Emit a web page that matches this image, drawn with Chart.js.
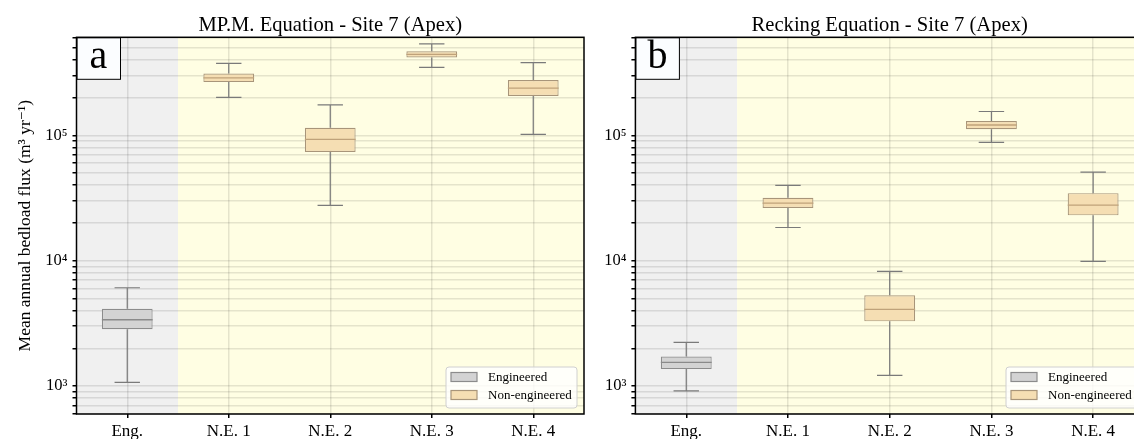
<!DOCTYPE html>
<html>
<head>
<meta charset="utf-8">
<script src="https://cdn.jsdelivr.net/npm/chart.js@4.4.1/dist/chart.umd.min.js"></script>
<style>
  html, body { margin: 0; padding: 0; background: #fff; overflow: hidden; }
  #wrap { position: relative; width: 1134px; height: 439px; overflow: hidden; }
  canvas { position: absolute; top: 0; }
</style>
</head>
<body>
<div id="wrap">
  <canvas id="chart-mpm" width="590" height="439" style="left:0px"></canvas>
  <canvas id="chart-recking" width="560" height="439" style="left:590px"></canvas>
</div>
<script>
/* ==========================================
   DATA
   ========================================== */
const categorias = ['Eng.', 'N.E. 1', 'N.E. 2', 'N.E. 3', 'N.E. 4'];

// MP.M. equation - panel a
const mpmMin = [1070, 201000, 27600, 349000, 102000];
const mpmQ1  = [2840, 266000, 73600, 419000, 206000];
const mpmMed = [3380, 288000, 92900, 443000, 238000];
const mpmQ3  = [4130, 312000, 115000, 468000, 276000];
const mpmMax = [6080, 376000, 175000, 538000, 380000];

// Recking equation - panel b
const reckMin = [916, 18400, 1215, 88000, 9870];
const reckQ1  = [1365, 26300, 3280, 112000, 23000];
const reckMed = [1543, 28800, 4090, 121000, 27800];
const reckQ3  = [1722, 31800, 5290, 130000, 34600];
const reckMax = [2228, 39900, 8210, 155000, 50900];

// y axis ticks (log)
const yTicks = [600, 700, 800, 900, 1000, 2000, 3000, 4000, 5000, 6000, 7000, 8000, 9000,
  10000, 20000, 30000, 40000, 50000, 60000, 70000, 80000, 90000,
  100000, 200000, 300000, 400000, 500000, 600000];
const yTickLabels = { 1000: '10³', 10000: '10⁴', 100000: '10⁵' };
const yMin = 598;
const yMax = 606000;

const serif = "'Liberation Serif', 'DejaVu Serif', serif";
Chart.defaults.font.family = serif;
Chart.defaults.color = '#000';

/* ==========================================
   BOX PLOT EXTRAS (background, whiskers, medians, legend...)
   ========================================== */
const boxExtras = {
    id: 'boxExtras',
    beforeDraw(chart) {
        const { ctx, chartArea: a, scales: { x } } = chart;
        const corte = (x.getPixelForValue(0) + x.getPixelForValue(1)) / 2;
        ctx.save();
        ctx.fillStyle = '#f0f0f0';
        ctx.fillRect(a.left, a.top, corte - a.left, a.height);
        ctx.fillStyle = '#fffee3';
        ctx.fillRect(corte, a.top, a.right - corte, a.height);
        ctx.restore();
    },
    beforeDatasetsDraw(chart, args, opts) {
        const { ctx, scales: { x, y } } = chart;
        ctx.save();
        ctx.strokeStyle = '#7a7a7a';
        ctx.lineWidth = 1.2;
        opts.min.forEach((v, i) => {
            const meta = chart.getDatasetMeta(i === 0 ? 0 : 1);
            const ancho = meta.data[i].width;
            const cx = x.getPixelForValue(i);
            const lineas = [[opts.q3[i], opts.max[i]], [opts.q1[i], opts.min[i]]];
            lineas.forEach(([desde, hasta]) => {
                ctx.beginPath();
                ctx.moveTo(cx, y.getPixelForValue(desde));
                ctx.lineTo(cx, y.getPixelForValue(hasta));
                ctx.moveTo(cx - ancho / 4, y.getPixelForValue(hasta));
                ctx.lineTo(cx + ancho / 4, y.getPixelForValue(hasta));
                ctx.stroke();
            });
        });
        ctx.restore();
    },
    afterDatasetsDraw(chart, args, opts) {
        const { ctx, scales: { x, y } } = chart;
        ctx.save();
        ctx.lineWidth = 1.3;
        opts.med.forEach((v, i) => {
            const meta = chart.getDatasetMeta(i === 0 ? 0 : 1);
            const ancho = meta.data[i].width;
            const cx = x.getPixelForValue(i);
            const py = y.getPixelForValue(v);
            ctx.strokeStyle = i === 0 ? '#8a8a8a' : '#bfa27a';
            ctx.beginPath();
            ctx.moveTo(cx - ancho / 2, py);
            ctx.lineTo(cx + ancho / 2, py);
            ctx.stroke();
        });
        ctx.restore();
    },
    afterDraw(chart, args, opts) {
        const { ctx, chartArea: a } = chart;
        ctx.save();

        // Title over the axes
        ctx.fillStyle = '#000';
        ctx.font = `20.6px ${serif}`;
        ctx.textAlign = 'center';
        ctx.textBaseline = 'alphabetic';
        ctx.fillText(opts.titulo, (a.left + a.right) / 2, a.top - 6);

        // Legend box, bottom right
        const lw = 131, lh = 41;
        const lx = a.right - 7 - lw, ly = a.bottom - 6 - lh;
        ctx.fillStyle = 'rgba(255,255,255,0.8)';
        ctx.strokeStyle = '#d0d0d0';
        ctx.lineWidth = 1;
        ctx.beginPath();
        ctx.roundRect(lx, ly, lw, lh, 3);
        ctx.fill();
        ctx.stroke();
        ctx.font = `13px ${serif}`;
        ctx.textAlign = 'left';
        ctx.textBaseline = 'middle';
        chart.data.datasets.forEach((ds, k) => {
            const sy = ly + 5.5 + k * 18;
            ctx.fillStyle = ds.backgroundColor;
            ctx.strokeStyle = ds.borderColor;
            ctx.lineWidth = 1.2;
            ctx.fillRect(lx + 5, sy, 26, 9);
            ctx.strokeRect(lx + 5, sy, 26, 9);
            ctx.fillStyle = '#000';
            ctx.fillText(ds.label, lx + 42, sy + 5);
        });

        // Panel letter
        ctx.fillStyle = '#fbfdff';
        ctx.fillRect(a.left, a.top, 44, 42);
        ctx.strokeStyle = '#000';
        ctx.lineWidth = 1;
        ctx.strokeRect(a.left + 0.5, a.top + 0.5, 43.5, 41.5);
        ctx.fillStyle = '#000';
        ctx.font = `40px ${serif}`;
        ctx.textAlign = 'center';
        ctx.textBaseline = 'alphabetic';
        ctx.fillText(opts.letra, a.left + 22, a.top + 31);

        // Spines
        ctx.strokeStyle = '#000';
        ctx.lineWidth = 1.5;
        ctx.strokeRect(a.left, a.top, a.right - a.left, a.bottom - a.top);
        ctx.restore();
    }
};

function crearPanel(id, titulo, letra, min, q1, med, q3, max, anchoEje, tituloEje) {
    const ctx = document.getElementById(id);
    return new Chart(ctx, {
        type: 'bar',
        data: {
            labels: categorias,
            datasets: [
                {
                    label: 'Engineered',
                    data: categorias.map((c, i) => i === 0 ? [q1[i], q3[i]] : null),
                    backgroundColor: '#d3d3d3', borderColor: '#8c8c8c',
                    borderWidth: 1.2, borderSkipped: false, grouped: false,
                    barPercentage: 0.5, categoryPercentage: 1
                },
                {
                    label: 'Non-engineered',
                    data: categorias.map((c, i) => i > 0 ? [q1[i], q3[i]] : null),
                    backgroundColor: '#f5deb3', borderColor: '#a8957a',
                    borderWidth: 1.2, borderSkipped: false, grouped: false,
                    barPercentage: 0.5, categoryPercentage: 1
                }
            ]
        },
        options: {
            responsive: false,
            animation: false,
            layout: { padding: { top: 37.3, right: 6, left: 0, bottom: 0 } },
            plugins: {
                legend: { display: false },
                tooltip: { enabled: false },
                boxExtras: { titulo, letra, min, q1, med, q3, max }
            },
            scales: {
                x: {
                    grid: { offset: false, color: 'rgba(0,0,0,0.1)', lineWidth: 1.5, tickColor: '#000', tickLength: 4 },
                    border: { display: false },
                    ticks: { font: { size: 17 }, padding: 3, color: '#000' },
                    afterFit: (s) => { s.height = 25; }
                },
                y: {
                    type: 'logarithmic',
                    min: yMin,
                    max: yMax,
                    afterBuildTicks: (s) => { s.ticks = yTicks.map(v => ({ value: v })); },
                    afterFit: (s) => { s.width = anchoEje; },
                    grid: { color: 'rgba(0,0,0,0.1)', lineWidth: 1.5, tickColor: '#000', tickLength: 4 },
                    border: { display: false },
                    ticks: {
                        autoSkip: false,
                        font: { size: 16.5 },
                        padding: 5,
                        color: '#000',
                        callback: (v) => yTickLabels[v] || ''
                    },
                    title: {
                        display: !!tituloEje,
                        text: tituloEje,
                        font: { size: 17.5 },
                        color: '#000',
                        padding: { top: 15, bottom: 0 }
                    }
                }
            }
        },
        plugins: [boxExtras]
    });
}

crearPanel('chart-mpm', 'MP.M. Equation - Site 7 (Apex)', 'a',
    mpmMin, mpmQ1, mpmMed, mpmQ3, mpmMax, 76.5, 'Mean annual bedload flux (m³ yr⁻¹)');
crearPanel('chart-recking', 'Recking Equation - Site 7 (Apex)', 'b',
    reckMin, reckQ1, reckMed, reckQ3, reckMax, 45.4, '');
</script>
</body>
</html>
